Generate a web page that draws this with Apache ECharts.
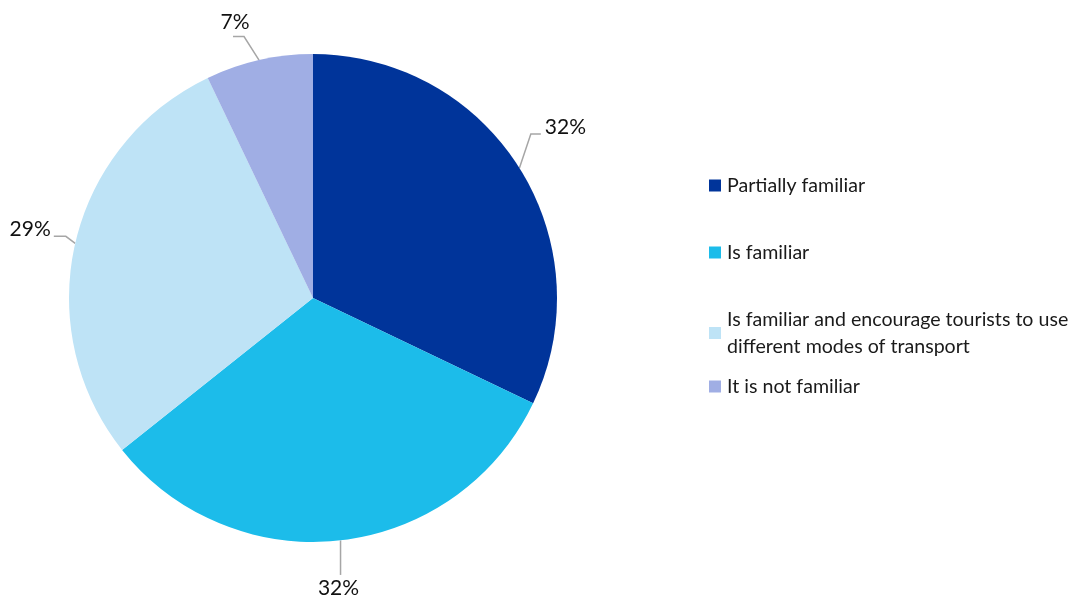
<!DOCTYPE html>
<html><head><meta charset="utf-8">
<script src="https://cdn.jsdelivr.net/npm/echarts@6/dist/echarts.min.js"></script>
<style>html,body{margin:0;padding:0;background:#fff}#c{width:1075px;height:597px}</style>
</head><body><div id="c"></div>
<script>
const categories = ["Partially familiar", "Is familiar", "Is familiar and encourage tourists to use\ndifferent modes of transport", "It is not familiar"];
const values = [32.1, 32.2, 28.6, 7.1];
const colors = ["#00349A", "#1CBCEA", "#BEE3F6", "#A0AEE4"];

const chart = echarts.init(document.getElementById('c'));
const legendTops = [167, 234, 301, 368];
const labelOffsets = [[46, -41], [-2, 48], [-45, -14], [-24, -38]];
const font = 'Lato, "Open Sans", sans-serif';

function layoutLabel(p) {
  const i = p.dataIndex, e = p.labelLinePoints[0], r = p.labelRect, o = labelOffsets[i];
  const cx = e[0] + o[0], cy = e[1] + o[1];
  const dx = cx - (r.x + r.width / 2), dy = cy - (r.y + r.height / 2);
  let pts;
  if (i === 0) { const ex = cx - r.width / 2 - 4, ey = cy + 7; pts = [e, [ex - 10, ey], [ex, ey]]; }
  else if (i === 1) { const ey = cy - r.height / 2 - 3; pts = [e, [e[0], ey], [e[0], ey]]; }
  else if (i === 2) { const ex = cx + r.width / 2 + 3, ey = cy + 7; pts = [e, [ex + 12, ey], [ex, ey]]; }
  else { const ex = cx - 2, ey = cy + r.height / 2 + 4; pts = [e, [ex + 11, ey], [ex, ey]]; }
  return { dx: dx, dy: dy, labelLinePoints: pts };
}

chart.setOption({
  animation: false,
  legend: categories.map((c, i) => ({
    data: [c], left: 704, top: legendTops[i], orient: 'vertical',
    itemWidth: 12, itemHeight: 12, itemGap: 0, icon: 'rect', selectedMode: false,
    textStyle: { fontFamily: font, fontSize: 19.6, color: '#1a1a1a', lineHeight: 27, padding: [0, 0, 0, 1] }
  })),
  series: [{
    type: 'pie', center: [313, 298], radius: 244, startAngle: 90, clockwise: true,
    percentPrecision: 0,
    data: categories.map((c, i) => ({ name: c, value: values[i], itemStyle: { color: colors[i] } })),
    label: { formatter: '{d}%', fontFamily: font, fontSize: 21, color: '#111', overflow: 'none' },
    labelLine: { length: 20, length2: 12, lineStyle: { color: '#a6a6a6', width: 1.5 } },
    labelLayout: layoutLabel,
    emphasis: { disabled: true }
  }]
});
</script></body></html>
